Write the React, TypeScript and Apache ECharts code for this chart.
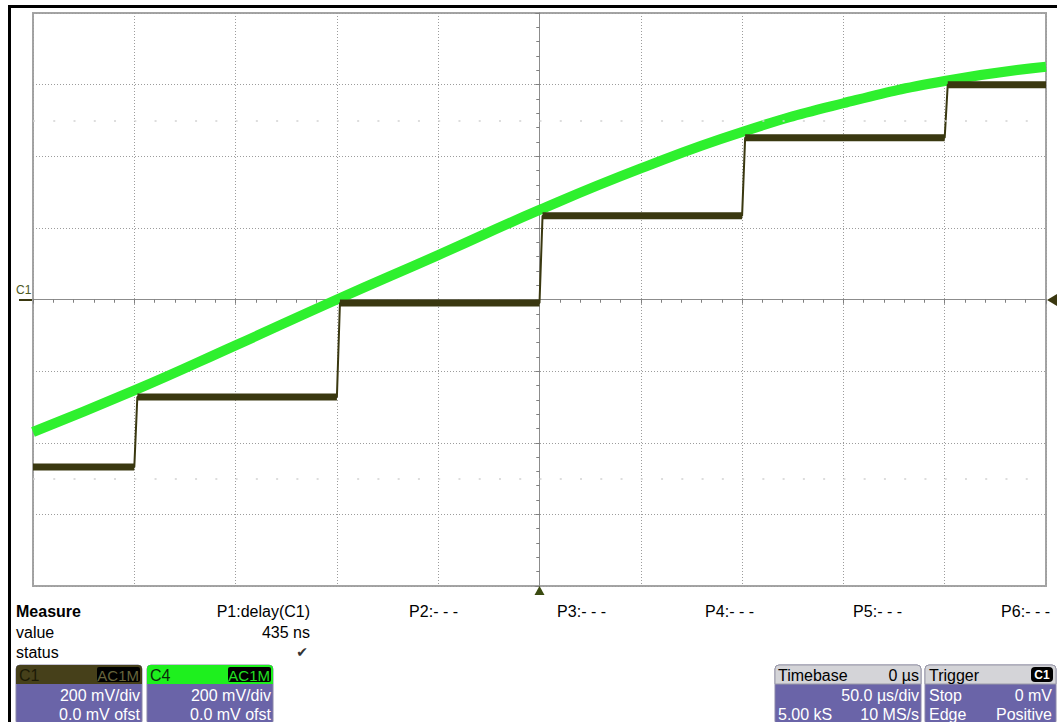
import React, { useEffect, useRef } from "react";
import * as echarts from "echarts";

// Time axis (µs) and voltage axis (mV): 50 µs/div, 200 mV/div
const timeRangeUs = [-250, 250];
const voltRangemV = [-800, 800];
const timeIntervalUs = 50;
const voltIntervalmV = 200;

// C4 (green) trace, read at each time division
const c4TimeUs = [-250, -200, -150, -100, -50, 0, 50, 100, 150, 200, 250];
const c4mV = [-370, -254, -128, 0, 124, 250, 366, 468, 548, 610, 650];

// C1 (dark) staircase: step instants and plateau levels
const c1StepTimesUs = [-200, -100, 0, 100, 200];
const c1LevelsmV = [-468, -272, -10, 234, 452, 600];
const c1RiseUs = 1.5;

// Faint dotted reference rows
const faintRowsmV = [500, -500];

// Measurement row
const measureLabels = ["P1:delay(C1)", "P2:- - -", "P3:- - -", "P4:- - -", "P5:- - -", "P6:- - -"];
const measureValue = "435 ns";

const FONT = "Liberation Sans, Arial, sans-serif";
const DARK = "#3a3810";
const GREEN = "#2ef02e";
const PURPLE = "#6a64a8";

export default function App() {
  const ref = useRef<HTMLDivElement>(null);

  useEffect(() => {
    if (!ref.current) return;
    const chart = echarts.init(ref.current, undefined, { renderer: "svg" });

    const c4Data = c4TimeUs.map((t, i) => [t, c4mV[i]]);

    const stair: any[] = [[timeRangeUs[0], c1LevelsmV[0]]];
    c1StepTimesUs.forEach((t, i) => {
      stair.push([t, c1LevelsmV[i]]);
      stair.push([t + c1RiseUs, c1LevelsmV[i + 1]]);
    });
    stair.push([timeRangeUs[1], c1LevelsmV[c1LevelsmV.length - 1]]);

    const plateaus: any[] = [];
    c1LevelsmV.forEach((L, i) => {
      const s = i === 0 ? timeRangeUs[0] : c1StepTimesUs[i - 1] + c1RiseUs;
      const e = i === c1LevelsmV.length - 1 ? timeRangeUs[1] : c1StepTimesUs[i];
      plateaus.push([s, L], [e, L]);
      if (i < c1LevelsmV.length - 1) plateaus.push([e, "-"]);
    });

    const axisCommon = (inside: boolean, withSplit: boolean) => ({
      type: "value" as const,
      axisLine: { show: true, onZero: true, onZeroAxisIndex: 0, lineStyle: { color: "#8c8c8c", width: 1 } },
      axisTick: { show: true, inside, length: 4, lineStyle: { color: "#808080" } },
      minorTick: { show: true, splitNumber: 5, length: 3, lineStyle: { color: "#808080" } },
      axisLabel: { show: false },
      splitLine: { show: withSplit, lineStyle: { color: "#9c9c9c", type: [1, 2], width: 1 } },
      minorSplitLine: { show: false },
    });

    const txt = (x: number, y: number, text: string, opts: any = {}) => ({
      type: "text",
      x,
      y,
      silent: true,
      z: 100,
      style: {
        text,
        font: `${opts.bold ? "bold " : ""}${opts.size || 16}px ${opts.family || FONT}`,
        fill: opts.fill || "#000",
        align: opts.align || "left",
        verticalAlign: "middle",
      },
    });
    const rect = (x: number, y: number, w: number, h: number, fill: string, r: any = 0, stroke?: string) => ({
      type: "rect",
      silent: true,
      z: 90,
      shape: { x, y, width: w, height: h, r },
      style: stroke ? { fill, stroke, lineWidth: 1 } : { fill },
    });

    const measureRight = [310, 458, 606, 754, 902, 1050];

    const graphic: any[] = [
      // outer frame
      rect(8, 5, 3, 717, "#000"),
      rect(8, 5, 1049, 3, "#000"),
      // C1 marker
      txt(16, 290, "C1", { size: 12, fill: "#4e5a1e" }),
      rect(19, 299, 13, 2, DARK),
      { type: "polygon", silent: true, z: 95, shape: { points: [[1047, 300], [1057, 294], [1057, 306]] }, style: { fill: DARK } },
      { type: "polygon", silent: true, z: 95, shape: { points: [[539.5, 586], [534.5, 595], [544.5, 595]] }, style: { fill: "#3a4a10" } },
      // measure panel
      txt(16, 611, "Measure", { bold: true }),
      txt(16, 632, "value"),
      txt(16, 652, "status"),
      ...measureLabels.map((l, i) => txt(measureRight[i], 611, l, { align: "right" })),
      txt(310, 632, measureValue, { align: "right" }),
      txt(308, 652, "✔", { align: "right", size: 14, family: "DejaVu Sans", fill: "#333" }),
      // C1 box
      rect(16, 665, 126, 60, PURPLE, 4, "#8a86a8"),
      rect(16, 665, 126, 19, "#46401a", [4, 4, 0, 0]),
      rect(97, 667, 43, 15, "#000", 2),
      txt(19, 675, "C1", { fill: "#1c1a06" }),
      txt(139, 675, "AC1M", { align: "right", size: 15, fill: "#66643c" }),
      txt(140, 695, "200 mV/div", { align: "right", fill: "#fff" }),
      txt(140, 714, "0.0 mV ofst", { align: "right", fill: "#fff" }),
      // C4 box
      rect(147, 665, 126, 60, PURPLE, 4, "#8a86a8"),
      rect(147, 665, 126, 19, "#1ef01e", [4, 4, 0, 0]),
      rect(228, 667, 43, 15, "#000", 2),
      txt(150, 675, "C4", { fill: "#0c2a0c" }),
      txt(270, 675, "AC1M", { align: "right", size: 15, fill: "#22e022" }),
      txt(271, 695, "200 mV/div", { align: "right", fill: "#fff" }),
      txt(271, 714, "0.0 mV ofst", { align: "right", fill: "#fff" }),
      // Timebase box
      rect(775, 665, 146, 60, PURPLE, 4, "#8a86a8"),
      rect(775, 665, 146, 19, "#d4d4d8", [4, 4, 0, 0], "#9a9aa8"),
      txt(778, 675, "Timebase"),
      txt(919, 675, "0 µs", { align: "right" }),
      txt(919, 695, "50.0 µs/div", { align: "right", fill: "#fff" }),
      txt(778, 714, "5.00 kS", { fill: "#fff" }),
      txt(919, 714, "10 MS/s", { align: "right", fill: "#fff" }),
      // Trigger box
      rect(925, 665, 131, 60, PURPLE, 4, "#8a86a8"),
      rect(925, 665, 131, 19, "#d4d4d8", [4, 4, 0, 0], "#9a9aa8"),
      rect(1031, 667, 22, 15, "#000", 4),
      txt(929, 675, "Trigger"),
      txt(1042, 675, "C1", { align: "center", size: 12, bold: true, fill: "#fff" }),
      txt(929, 695, "Stop", { fill: "#fff" }),
      txt(1052, 695, "0 mV", { align: "right", fill: "#fff" }),
      txt(929, 714, "Edge", { fill: "#fff" }),
      txt(1052, 714, "Positive", { align: "right", fill: "#fff" }),
    ];

    chart.setOption({
      animation: false,
      backgroundColor: "#fff",
      grid: { left: 33, right: 11, top: 13, bottom: 136, show: true, borderColor: "#a4a4a4", borderWidth: 2, backgroundColor: "transparent" },
      xAxis: [
        { ...axisCommon(false, true), min: timeRangeUs[0], max: timeRangeUs[1], interval: timeIntervalUs },
        { ...axisCommon(true, false), min: timeRangeUs[0], max: timeRangeUs[1], interval: timeIntervalUs },
      ],
      yAxis: [
        { ...axisCommon(false, true), min: voltRangemV[0], max: voltRangemV[1], interval: voltIntervalmV },
        { ...axisCommon(true, false), min: voltRangemV[0], max: voltRangemV[1], interval: voltIntervalmV },
      ],
      series: [
        {
          type: "line",
          name: "C4",
          data: c4Data,
          smooth: true,
          symbol: "none",
          lineStyle: { color: GREEN, width: 10 },
          z: 2,
          markLine: {
            silent: true,
            symbol: "none",
            label: { show: false },
            lineStyle: { color: "#d2d2d2", type: [2, 18.26], width: 1.5 },
            data: faintRowsmV.map((v) => ({ yAxis: v })),
          },
        },
        {
          type: "line",
          name: "C1 edges",
          data: stair,
          symbol: "none",
          lineStyle: { color: DARK, width: 2 },
          z: 3,
        },
        {
          type: "line",
          name: "C1",
          data: plateaus,
          symbol: "none",
          connectNulls: false,
          lineStyle: { color: DARK, width: 7 },
          z: 4,
        },
      ],
      graphic,
    });

    return () => chart.dispose();
  }, []);

  return (
    <div
      ref={ref}
      style={{ position: "fixed", left: 0, top: 0, width: 1057, height: 722, background: "#fff" }}
    />
  );
}
